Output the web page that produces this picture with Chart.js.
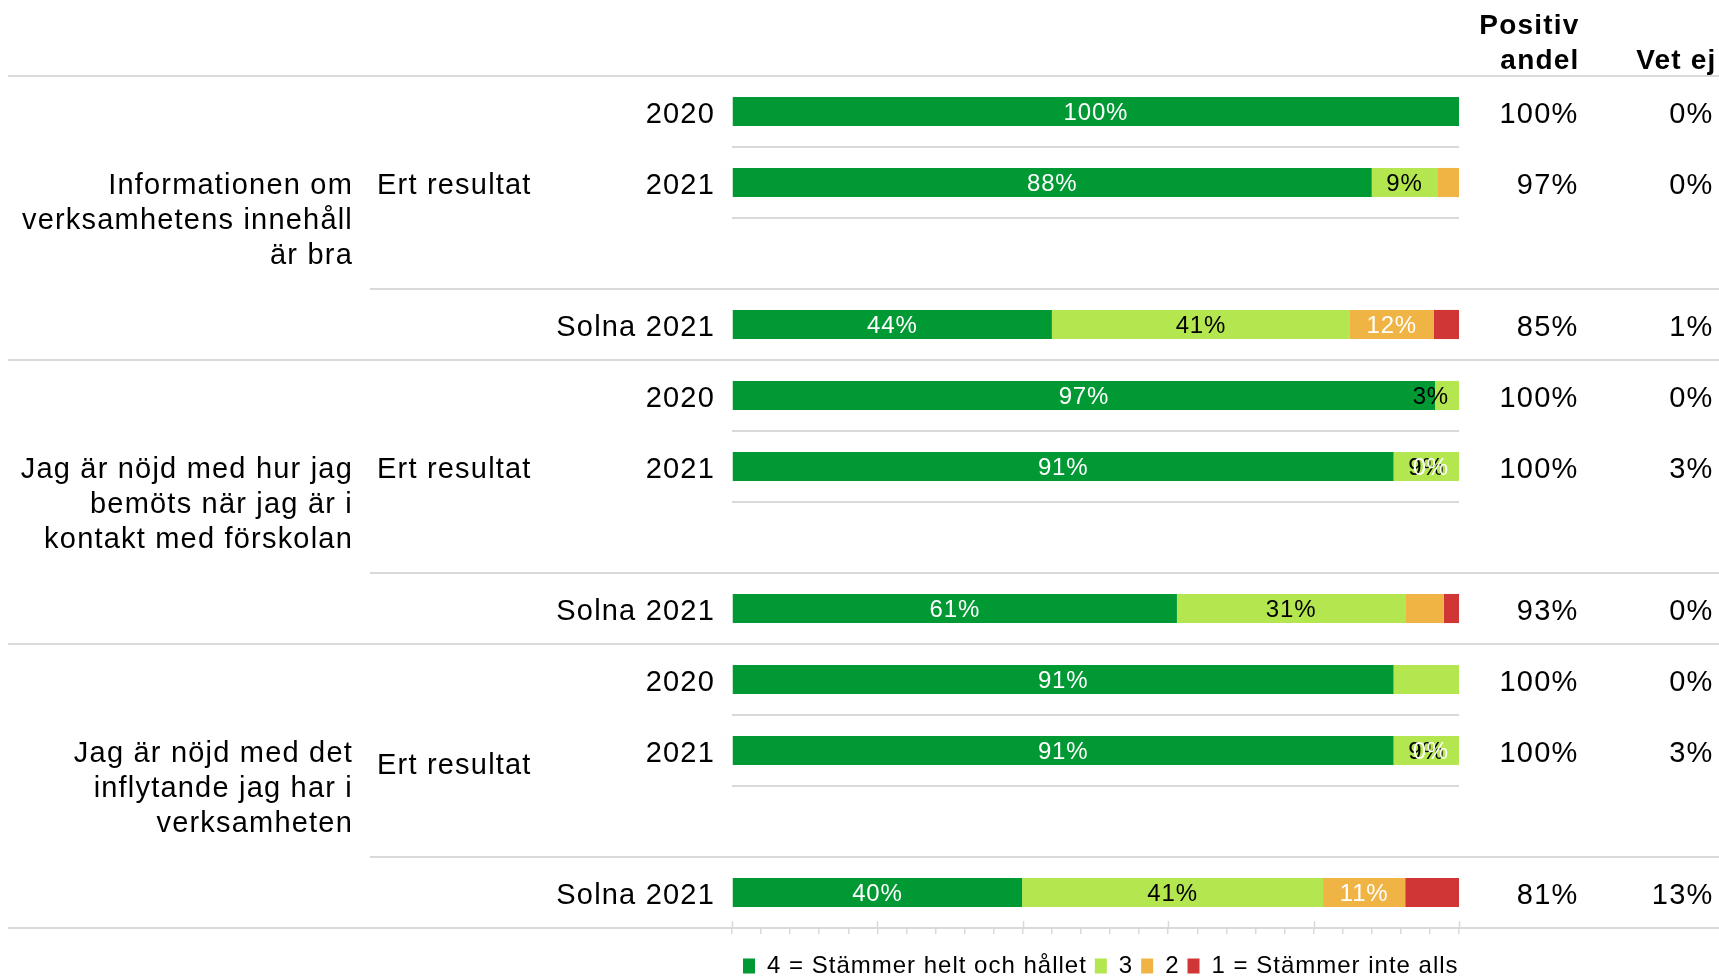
<!DOCTYPE html>
<html>
<head>
<meta charset="utf-8">
<script src="https://cdn.jsdelivr.net/npm/chart.js@4.4.1/dist/chart.umd.min.js"></script>
<style>html,body{margin:0;padding:0;background:#fff;}canvas{display:block;}</style>
</head>
<body>
<canvas id="c" width="1719" height="976"></canvas>
<script>
// ---- data ----
const rowLabels = ['2020', '2021', '', 'Solna 2021', '2020', '2021', '', 'Solna 2021', '2020', '2021', '', 'Solna 2021'];
const groupLabel = 'Ert resultat';
const questions = [
  ['Informationen om', 'verksamhetens innehåll', 'är bra'],
  ['Jag är nöjd med hur jag', 'bemöts när jag är i', 'kontakt med förskolan'],
  ['Jag är nöjd med det', 'inflytande jag har i', 'verksamheten']
];
const seriesNames = ['4 = Stämmer helt och hållet', '3', '2', '1 = Stämmer inte alls'];
const s4 = [100, 88, null, 44, 96.7, 91, null, 61.2, 91, 91, null, 39.9];
const s3 = [0, 9, null, 41, 3.3, 9, null, 31.4, 9, 9, null, 41.4];
const s2 = [0, 3, null, 11.5, 0, 0, null, 5.3, 0, 0, null, 11.3];
const s1 = [0, 0, null, 3.5, 0, 0, null, 2.1, 0, 0, null, 7.4];
// which segment labels are printed (1 = shown)
const show4 = [1, 1, 0, 1, 1, 1, 0, 1, 1, 1, 0, 1];
const show3 = [0, 1, 0, 1, 1, 1, 0, 1, 0, 1, 0, 1];
const show2 = [0, 0, 0, 1, 0, 1, 0, 0, 0, 1, 0, 1];
const show1 = [0, 0, 0, 0, 0, 0, 0, 0, 0, 0, 0, 0];
const positiveShare = ['100%', '97%', '', '85%', '100%', '100%', '', '93%', '100%', '100%', '', '81%'];
const dontKnow = ['0%', '0%', '', '1%', '0%', '3%', '', '0%', '0%', '3%', '', '13%'];
const colHeaders = [['Positiv', 'andel'], ['Vet ej']];

// ---- styling ----
const FONT = "'Liberation Sans', Arial, sans-serif";
const barColors = ['#009933', '#b3e64f', '#f0b444', '#d03636'];
const labelColors = ['#ffffff', '#000000', '#ffffff', '#ffffff'];
const showLabels = [show4, show3, show2, show1];
const seriesData = [s4, s3, s2, s1];
const BIG_SPACING = '1.2px';

const decor = {
  id: 'decor',
  beforeLayout(chart) { chart.ctx.letterSpacing = '1px'; },
  afterLayout(chart) {
    const lg = chart.legend;
    if (lg) {
      const p = lg.options.labels.padding;
      lg.left = chart.chartArea.left + 11 - p;
      lg.right = chart.width;
      lg.width = lg.right - lg.left;
    }
  },
  beforeDraw(chart) { chart.ctx.letterSpacing = '1px'; },
  beforeDatasetsDraw(chart) {
    const { ctx, chartArea: ca, scales: { y: ys, x: xs } } = chart;
    const n = rowLabels.length, g = n / questions.length;
    ctx.save();
    ctx.strokeStyle = '#d9d9d9';
    ctx.lineWidth = 2;
    for (let i = 0; i <= n; i++) {
      const y = i === 0 ? ca.top : i === n ? ca.bottom : (ys.getPixelForValue(i - 1) + ys.getPixelForValue(i)) / 2;
      const k = i % g;
      let x0 = ca.left, x1 = ca.right;
      if (k === 0) { x0 = 8; x1 = chart.width; }
      else if (k === g - 1) { x0 = 370; x1 = chart.width; }
      ctx.beginPath(); ctx.moveTo(x0, y); ctx.lineTo(x1, y); ctx.stroke();
    }
    ctx.lineWidth = 1.5;
    for (let v = 0; v <= 100; v += 20) {
      const x = Math.round(xs.getPixelForValue(v)) + 0.5;
      ctx.beginPath(); ctx.moveTo(x, ca.bottom - 7); ctx.lineTo(x, ca.bottom); ctx.stroke();
    }
    ctx.restore();
  },
  afterDatasetsDraw(chart) {
    const { ctx, chartArea: ca } = chart;
    ctx.save();
    ctx.letterSpacing = '0.8px';
    ctx.font = `24px ${FONT}`;
    ctx.textAlign = 'center';
    ctx.textBaseline = 'middle';
    chart.data.datasets.forEach((ds, di) => {
      const meta = chart.getDatasetMeta(di);
      meta.data.forEach((el, i) => {
        if (!showLabels[di][i] || ds.data[i] == null) return;
        const txt = Math.round(ds.data[i]) + '%';
        const w = ctx.measureText(txt).width;
        let x = (el.x + el.base) / 2;
        x = Math.min(x, ca.right - 10 - w / 2);
        ctx.fillStyle = labelColors[di];
        ctx.fillText(txt, x, el.y + 2);
      });
    });
    ctx.restore();
    ctx.letterSpacing = BIG_SPACING;
  },
  afterDraw(chart) {
    const { ctx, chartArea: ca, scales: { y: ys } } = chart;
    const g = rowLabels.length / questions.length;
    ctx.save();
    ctx.letterSpacing = BIG_SPACING;
    ctx.fillStyle = '#000';
    ctx.textBaseline = 'middle';
    // column headers
    ctx.font = `bold 28px ${FONT}`;
    ctx.textAlign = 'right';
    const cPos = ca.right + 120.5, cVet = ca.right + 257.5;
    ctx.fillText(colHeaders[0][0], cPos, ca.top - 50);
    ctx.fillText(colHeaders[0][1], cPos, ca.top - 15);
    ctx.fillText(colHeaders[1][0], cVet, ca.top - 15);
    // column values
    ctx.font = `29px ${FONT}`;
    rowLabels.forEach((_, i) => {
      const y = ys.getPixelForValue(i) + 3;
      if (positiveShare[i]) ctx.fillText(positiveShare[i], ca.right + 119.5, y);
      if (dontKnow[i]) ctx.fillText(dontKnow[i], ca.right + 254.5, y);
    });
    // question labels
    questions.forEach((lines, q) => {
      const yc = (ys.getPixelForValue(q * g + 1) + ys.getPixelForValue(q * g + 2)) / 2;
      ctx.textAlign = 'right';
      lines.forEach((t, k) => ctx.fillText(t, 353, yc + (k - (lines.length - 1) / 2) * 35 + 3));
      ctx.textAlign = 'left';
      const yr = ys.getPixelForValue(q * g + 1) + (q === 2 ? 12 : 0) + 3;
      ctx.fillText(groupLabel, 377, yr);
    });
    ctx.restore();
  }
};

new Chart(document.getElementById('c'), {
  type: 'bar',
  data: {
    labels: rowLabels,
    datasets: seriesNames.map((name, i) => ({
      label: name,
      data: seriesData[i],
      backgroundColor: barColors[i],
      borderWidth: 0,
      barPercentage: 0.41,
      categoryPercentage: 1
    }))
  },
  options: {
    indexAxis: 'y',
    responsive: false,
    animation: false,
    layout: { padding: { top: 76, right: 260, left: 0, bottom: -12 } },
    scales: {
      x: {
        stacked: true,
        min: 0, max: 100,
        ticks: { display: false, stepSize: 4 },
        grid: { drawOnChartArea: false, drawTicks: true, tickLength: 6, color: '#d9d9d9', lineWidth: 1.5 },
        border: { display: false },
        afterFit: s => { s.height = 18; }
      },
      y: {
        stacked: true,
        ticks: { color: '#000', font: { family: FONT, size: 29 }, padding: 17, autoSkip: false, z: 1, labelOffset: 3 },
        grid: { display: false, drawTicks: false },
        border: { display: false },
        afterFit: s => { s.width = 732; }
      }
    },
    plugins: {
      tooltip: { enabled: false },
      legend: {
        position: 'bottom',
        align: 'start',
        labels: { color: '#000', font: { family: FONT, size: 24 }, boxWidth: 12, boxHeight: 15, padding: 8 }
      }
    }
  },
  plugins: [decor]
});
</script>
</body>
</html>
